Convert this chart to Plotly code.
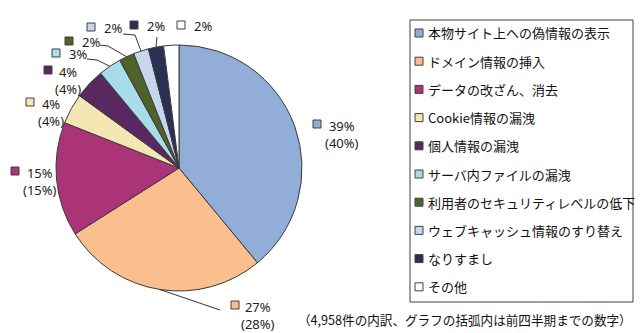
import math
import plotly.graph_objects as go

# --- data -------------------------------------------------------------
categories = [
    "本物サイト上への偽情報の表示",
    "ドメイン情報の挿入",
    "データの改ざん、消去",
    "Cookie情報の漏洩",
    "個人情報の漏洩",
    "サーバ内ファイルの漏洩",
    "利用者のセキュリティレベルの低下",
    "ウェブキャッシュ情報のすり替え",
    "なりすまし",
    "その他",
]
shares = [39, 27, 15, 4, 4, 3, 2, 2, 2, 2]           # current quarter (%)
previous = [40, 28, 15, 4, 4, None, None, None, None, None]  # up to previous quarter (%)
colors = [
    "#91ADD8", "#F9BF8E", "#AB3479", "#F4E6B3", "#5A2860",
    "#A9DCE9", "#4F6228", "#C8D6EC", "#2B2F54", "#FFFFFF",
]
footnote = "（4,958件の内訳、グラフの括弧内は前四半期までの数字）"

# --- geometry (pixels) -------------------------------------------------
W, H = 640, 333
CX, CY, R = 179, 168, 123


def px(x):
    return x / W


def py(y):
    return 1 - y / H


fig = go.Figure(
    go.Pie(
        labels=categories,
        values=shares,
        sort=False,
        direction="clockwise",
        rotation=0,
        textinfo="none",
        hoverinfo="label+percent",
        marker=dict(colors=colors, line=dict(color="#3a3a3a", width=1)),
        showlegend=False,
        domain=dict(x=[px(CX - R), px(CX + R)], y=[py(CY + R), py(CY - R)]),
    )
)

FONT = "Noto Sans, Noto Sans CJK JP, sans-serif"
JP_FONT = "Noto Sans CJK JP, sans-serif"

shapes = []
annotations = []

# --- data labels: square + value, previous value underneath --------------
# (square centre x, square centre y, centre x of the text block)
label_pos = {
    0: (317, 124, 342),
    1: (235, 305, 258),
    2: (15, 171, 40),
    3: (30, 102, 51),
    4: (48, 70, 68),
    5: (56, 53, None),
    6: (69, 41, None),
    7: (91, 27, None),
    8: (134, 25, None),
    9: (181, 25, None),
}
SQ = 8
LBL = dict(family=FONT, size=13, color="#222")
for i, (sx, sy, cx2) in label_pos.items():
    shapes.append(dict(
        type="rect", xref="paper", yref="paper",
        x0=px(sx - SQ / 2), x1=px(sx + SQ / 2),
        y0=py(sy + SQ / 2), y1=py(sy - SQ / 2),
        fillcolor=colors[i], line=dict(color="#404040", width=1),
    ))
    if previous[i] is not None and cx2 is not None:
        annotations.append(dict(
            xref="paper", yref="paper", x=px(cx2), y=py(sy - 8),
            xanchor="center", yanchor="top", showarrow=False, align="center",
            borderpad=0,
            text=f"{shares[i]}%<br>({previous[i]}%)", font=LBL,
        ))
    else:
        annotations.append(dict(
            xref="paper", yref="paper", x=px(sx + 12), y=py(sy + 1),
            xanchor="left", yanchor="middle", showarrow=False, borderpad=0,
            text=f"{shares[i]}%", font=LBL,
        ))

# --- leader lines: from label to the middle of the slice's arc ------------
leader_start = {
    1: [(220, 310)],
    5: [(87, 59), (97, 60)],
    6: [(100, 45), (108, 46)],
    7: [(123, 34), (135, 35)],
    8: [(157, 37)],
}
cum = 0
mids = []
for v in shares:
    mids.append((cum + v / 2) / sum(shares) * 2 * math.pi)
    cum += v
for i, pts in leader_start.items():
    a = mids[i]
    edge = (CX + R * math.sin(a), CY - R * math.cos(a))
    path_pts = pts + [edge]
    path = "M " + " L ".join(f"{px(x):.5f},{py(y):.5f}" for x, y in path_pts)
    shapes.append(dict(type="path", xref="paper", yref="paper", path=path,
                       line=dict(color="#333333", width=1)))

# --- legend box ----------------------------------------------------------
LX0, LY0, LX1, LY1 = 410, 20, 633, 302
shapes.append(dict(type="rect", xref="paper", yref="paper",
                   x0=px(LX0), x1=px(LX1), y0=py(LY1), y1=py(LY0),
                   line=dict(color="#404040", width=1), fillcolor="rgba(0,0,0,0)"))
for i, name in enumerate(categories):
    yc = 33 + i * 28.2
    shapes.append(dict(
        type="rect", xref="paper", yref="paper",
        x0=px(415), x1=px(423), y0=py(yc + 4), y1=py(yc - 4),
        fillcolor=colors[i], line=dict(color="#404040", width=1),
    ))
    annotations.append(dict(
        xref="paper", yref="paper", x=px(426), y=py(yc),
        xanchor="left", yanchor="middle", showarrow=False,
        text=name, font=dict(family=JP_FONT, size=13, color="#111"),
    ))

# --- footnote ------------------------------------------------------------
annotations.append(dict(
    xref="paper", yref="paper", x=px(634), y=py(319),
    xanchor="right", yanchor="middle", showarrow=False,
    text=footnote, font=dict(family=JP_FONT, size=12.6, color="#111"),
))

fig.update_layout(
    width=W, height=H,
    margin=dict(l=0, r=0, t=0, b=0),
    paper_bgcolor="white", plot_bgcolor="white",
    shapes=shapes, annotations=annotations,
)

fig.write_html("out.html")
